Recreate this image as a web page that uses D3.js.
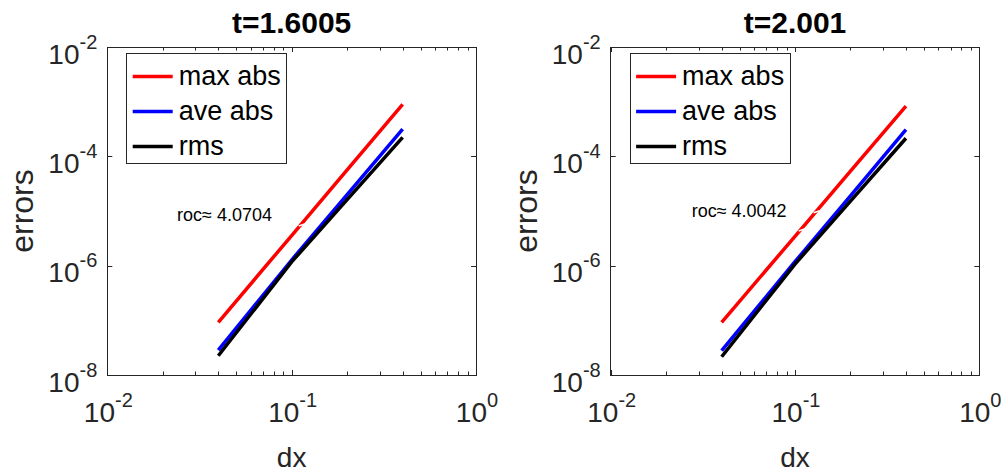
<!DOCTYPE html>
<html>
<head>
<meta charset="utf-8">
<script src="https://cdn.jsdelivr.net/npm/d3@7"></script>
<style>
  html, body { margin: 0; padding: 0; background: #fff; }
  svg text { font-family: "Liberation Sans", Arial, Helvetica, sans-serif; fill: #262626; }
</style>
</head>
<body>
<svg id="chart" width="1001" height="472"></svg>
<script>
// ---- data ----
const dxValues = [0.04, 0.1, 0.2, 0.4];
const seriesNames = ["max abs", "ave abs", "rms"];
const seriesColors = ["#ff0000", "#0000ff", "#000000"];

const titles = ["t=1.6005", "t=2.001"];
const rocLabels = ["roc\u2248 4.0704", "roc\u2248 4.0042"];

const maxAbs1 = [9.2e-8, 3.56e-6, 5.66e-5, 8.95e-4];
const aveAbs1 = [2.86e-8, 1.27e-6, 2.0e-5, 3.16e-4];
const rms1    = [2.25e-8, 1.17e-6, 1.61e-5, 2.23e-4];

const maxAbs2 = [9.2e-8, 3.45e-6, 5.36e-5, 8.3e-4];
const aveAbs2 = [2.78e-8, 1.18e-6, 1.9e-5, 3.07e-4];
const rms2    = [2.16e-8, 1.07e-6, 1.51e-5, 2.14e-4];

// small white annotation ticks crossing the red line (dx, error)
const whiteMarks1 = [[0.1134, 5.55e-6]];
const whiteMarks2 = [[0.1087, 4.49e-6], [0.1311, 9.7e-6]];

const xDomain = [1e-2, 1];
const yDomain = [1e-8, 1e-2];
const xTickExps = [-2, -1, 0];
const yTickExps = [-8, -6, -4, -2];

// ---- layout ----
const panels = [
  { left: 107.3, right: 476, top: 47, bottom: 375, series: [maxAbs1, aveAbs1, rms1],
    marks: whiteMarks1, title: titles[0], roc: rocLabels[0], rocX: 177, rocY: 220.5 },
  { left: 610.7, right: 979.3, top: 47, bottom: 375, series: [maxAbs2, aveAbs2, rms2],
    marks: whiteMarks2, title: titles[1], roc: rocLabels[1], rocX: 691.7, rocY: 216.5 }
];

const svg = d3.select("#chart");
const axisColor = "#262626";

function supLabel(sel, exp, baseSize, supSize, supDy) {
  sel.append("tspan").text("10").attr("font-size", baseSize);
  sel.append("tspan").text(String(exp)).attr("font-size", supSize).attr("dy", supDy);
}

panels.forEach((p, pi) => {
  const x = d3.scaleLog().domain(xDomain).range([p.left, p.right]);
  const y = d3.scaleLog().domain(yDomain).range([p.bottom, p.top]);
  const g = svg.append("g");

  // box
  g.append("rect")
    .attr("x", p.left).attr("y", p.top)
    .attr("width", p.right - p.left).attr("height", p.bottom - p.top)
    .attr("fill", "#fff").attr("stroke", axisColor).attr("stroke-width", 1)
    .attr("shape-rendering", "crispEdges");

  // x ticks (major + minor) bottom & top, inward
  const xTicks = x.ticks();
  xTicks.forEach(v => {
    const isMajor = Math.abs(Math.log10(v) - Math.round(Math.log10(v))) < 1e-9;
    const len = isMajor ? 5 : 3.5;
    const xp = Math.round(x(v)) + 0.5;
    g.append("line").attr("x1", xp).attr("x2", xp)
      .attr("y1", p.bottom).attr("y2", p.bottom - len)
      .attr("stroke", axisColor).attr("stroke-width", 1);
    g.append("line").attr("x1", xp).attr("x2", xp)
      .attr("y1", p.top).attr("y2", p.top + len)
      .attr("stroke", axisColor).attr("stroke-width", 1);
  });
  // y ticks left & right
  yTickExps.forEach(e => {
    const yp = Math.round(y(Math.pow(10, e))) + 0.5;
    g.append("line").attr("x1", p.left).attr("x2", p.left + 5)
      .attr("y1", yp).attr("y2", yp).attr("stroke", axisColor).attr("stroke-width", 1);
    g.append("line").attr("x1", p.right).attr("x2", p.right - 5)
      .attr("y1", yp).attr("y2", yp).attr("stroke", axisColor).attr("stroke-width", 1);
  });

  // x tick labels
  xTickExps.forEach(e => {
    const t = g.append("text")
      .attr("x", x(Math.pow(10, e)) + 1)
      .attr("y", 422)
      .attr("text-anchor", "middle");
    supLabel(t, e, 28, 20, -15);
  });
  // y tick labels
  yTickExps.forEach(e => {
    const t = g.append("text")
      .attr("x", p.left - 10)
      .attr("y", y(Math.pow(10, e)) + 16.5)
      .attr("text-anchor", "end");
    supLabel(t, e, 28, 20, -15);
  });

  // axis labels
  g.append("text")
    .attr("x", (p.left + p.right) / 2).attr("y", 466.5)
    .attr("text-anchor", "middle").attr("font-size", 28).text("dx");
  g.append("text")
    .attr("transform", `translate(${p.left - 74},${(p.top + p.bottom) / 2}) rotate(-90)`)
    .attr("text-anchor", "middle").attr("font-size", 32).text("errors");

  // title
  g.append("text")
    .attr("x", (p.left + p.right) / 2).attr("y", 33)
    .attr("text-anchor", "middle").attr("font-size", 30).attr("font-weight", "bold")
    .style("fill", "#000")
    .text(p.title);

  // lines
  const line = d3.line().x((d, i) => x(dxValues[i])).y(d => y(d));
  p.series.forEach((s, si) => {
    g.append("path").datum(s)
      .attr("d", line)
      .attr("fill", "none")
      .attr("stroke", seriesColors[si])
      .attr("stroke-width", 3.5);
  });

  // white marks
  p.marks.forEach(m => {
    const cx = x(m[0]), cy = y(m[1]);
    g.append("line").attr("x1", cx - 3).attr("x2", cx + 3)
      .attr("y1", cy + 1).attr("y2", cy - 1)
      .attr("stroke", "#fff").attr("stroke-width", 1.5);
  });

  // roc annotation
  g.append("text")
    .attr("x", p.rocX).attr("y", p.rocY)
    .attr("font-size", 18).style("fill", "#000")
    .text(p.roc);

  // legend
  const lx = p.left + 19.4, ly = p.top + 6.5, lw = 160, lh = 110;
  g.append("rect").attr("x", lx).attr("y", ly).attr("width", lw).attr("height", lh)
    .attr("fill", "#fff").attr("stroke", axisColor).attr("stroke-width", 1)
    .attr("shape-rendering", "crispEdges");
  seriesNames.forEach((n, i) => {
    const ry = ly + 23 + i * 35;
    g.append("line").attr("x1", lx + 6).attr("x2", lx + 46)
      .attr("y1", ry).attr("y2", ry)
      .attr("stroke", seriesColors[i]).attr("stroke-width", 3.5);
    g.append("text").attr("x", lx + 52).attr("y", ry + 8.5)
      .attr("font-size", 27).style("fill", "#000").text(n);
  });
});
</script>
</body>
</html>
